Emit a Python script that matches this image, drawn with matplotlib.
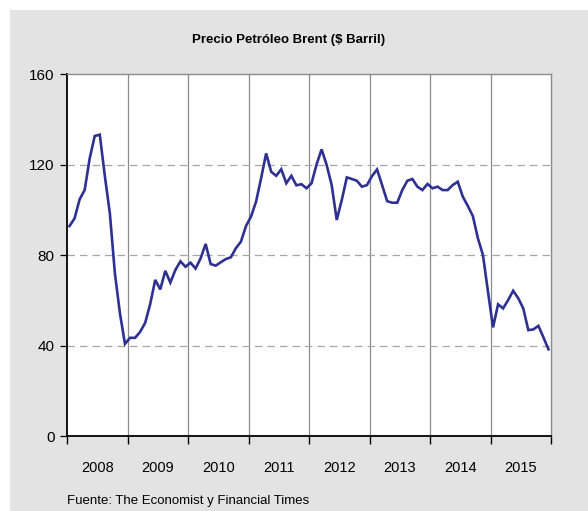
import matplotlib
matplotlib.use("Agg")
import matplotlib.pyplot as plt
import numpy as np
from matplotlib.patches import Rectangle

FONT = ['Liberation Sans Narrow', 'Liberation Sans', 'DejaVu Sans']

years = ["2008", "2009", "2010", "2011", "2012", "2013", "2014", "2015"]
y_ticks = [0, 40, 80, 120, 160]

brent_2008 = [92.8, 96.2, 104.6, 108.7, 122.7, 132.6, 133.2, 115.0, 98.4, 71.9, 54.2, 40.7]
brent_2009 = [43.4, 43.4, 46.0, 50.0, 58.3, 69.0, 64.8, 73.0, 67.8, 73.4, 77.2, 74.8]
brent_2010 = [76.6, 74.0, 78.5, 84.9, 76.0, 75.3, 76.8, 78.2, 79.0, 83.0, 85.9, 92.8]
brent_2011 = [97.0, 103.6, 113.9, 124.9, 116.8, 115.0, 117.9, 111.7, 115.0, 110.8, 111.3, 109.5]
brent_2012 = [111.7, 120.0, 126.7, 119.8, 110.9, 95.5, 104.3, 114.3, 113.6, 112.8, 110.2, 110.9]
brent_2013 = [114.9, 117.8, 110.9, 103.8, 103.1, 103.1, 108.7, 112.8, 113.6, 110.2, 108.7, 111.4]
brent_2014 = [109.5, 110.2, 108.7, 108.7, 110.9, 112.4, 105.8, 101.7, 97.2, 87.4, 80.0, 63.8]
brent_2015 = [48.0, 58.2, 56.4, 60.1, 64.2, 60.9, 56.4, 46.8, 47.1, 48.7, 43.6, 38.3]

values = (brent_2008 + brent_2009 + brent_2010 + brent_2011 +
          brent_2012 + brent_2013 + brent_2014 + brent_2015)
months = (np.arange(len(values)) + 0.5) / 12.0  # years since start, mid-month

fig = plt.figure(figsize=(5.88, 5.11), dpi=100)
fig.patch.set_facecolor('white')
fig.patches.append(Rectangle((10 / 588, 0), 1 - 10 / 588, 1 - 10 / 511,
                             transform=fig.transFigure, facecolor='#e3e3e3',
                             edgecolor='none', zorder=-10))

ax = fig.add_axes([67 / 588, 1 - 436 / 511, 484 / 588, 362 / 511])
ax.set_facecolor('white')

n = len(years)
ax.set_xlim(0, n)
ax.set_ylim(0, 160)

for b in range(1, n):
    ax.axvline(b, color='#8c8c8c', lw=0.9, zorder=1)
for yv in [40, 80, 120]:
    ax.axhline(yv, color='#a6a6a6', lw=0.9, ls=(0, (6, 4)), zorder=1)

ax.plot(months, values, color='#2e3192', lw=1.9, zorder=3, solid_joinstyle='miter')

ax.set_yticks(y_ticks)
ax.set_yticklabels([str(v) for v in y_ticks], family=FONT, fontsize=11)
ax.set_xticks(np.arange(0, n + 1))
ax.set_xticklabels([])
ax.set_xticks(np.arange(n) + 0.5, minor=True)
ax.set_xticklabels(years, minor=True, family=FONT, fontsize=10.5)
ax.tick_params(axis='x', which='major', direction='out', length=6, width=1, color='black')
ax.tick_params(axis='x', which='minor', length=0, pad=18)
ax.tick_params(axis='y', direction='out', length=5, width=0.9, color='black', pad=4)

for side in ['left', 'bottom']:
    ax.spines[side].set_color('black')
    ax.spines[side].set_linewidth(1.3)
for side in ['top', 'right']:
    ax.spines[side].set_color('#8c8c8c')
    ax.spines[side].set_linewidth(1.0)

fig.text(289 / 588, 1 - 40 / 511, 'Precio Petróleo Brent ($ Barril)', ha='center', va='center',
         family=FONT, fontsize=9.5, fontweight='bold')
fig.text(67 / 588, 1 - 501 / 511, 'Fuente: The Economist y Financial Times', ha='left', va='center',
         family=FONT, fontsize=9.5)

fig.savefig('out.png', dpi=100)
